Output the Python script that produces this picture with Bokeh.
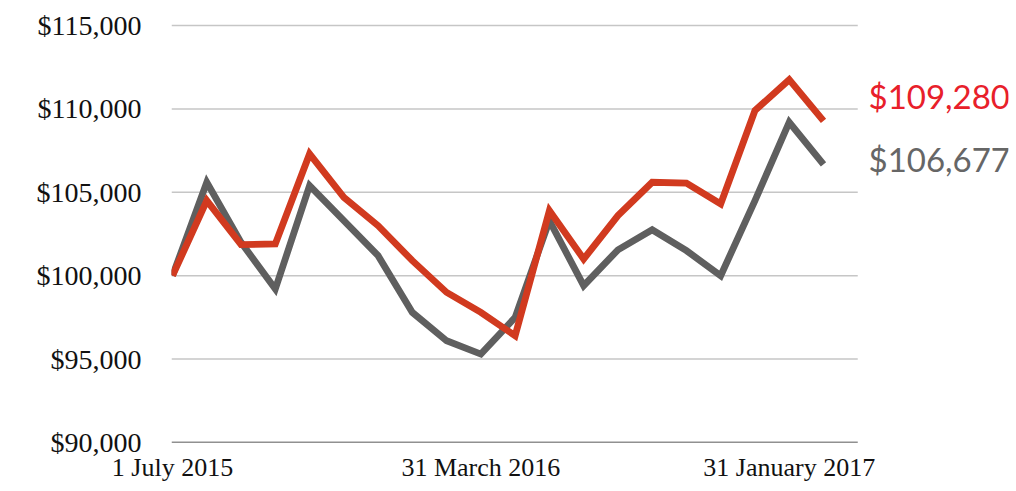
from bokeh.plotting import figure
from bokeh.models import Range1d, FixedTicker, NumeralTickFormatter, Label, ColumnDataSource
from bokeh.embed import file_html
from bokeh.resources import INLINE

# ---- data ----
months = list(range(20))
red_values = [100000, 104500, 101860, 101900, 107300, 104700, 103000, 100900, 99000, 97800,
              96400, 103900, 101000, 103600, 105600, 105550, 104300, 109900, 111750, 109280]
gray_values = [100000, 105600, 102000, 99200, 105400, 103300, 101200, 97800, 96100, 95300,
               97500, 103300, 99400, 101550, 102750, 101500, 100000, 104500, 109200, 106677]
x_tick_positions = [0, 9, 18]
x_tick_labels = ["1 July 2015", "31 March 2016", "31 January 2017"]
y_ticks = [90000, 95000, 100000, 105000, 110000, 115000]
red_end_label = "$109,280"
gray_end_label = "$106,677"

RED = "#d13a1f"
GRAY = "#5f5f5f"
SERIF = "Liberation Serif"

x_start = -0.03
grid_end = months[-1] + 1.0

p = figure(width=1010, height=486, output_backend="svg", toolbar_location=None,
           x_range=Range1d(x_start, 24.4), y_range=Range1d(90000, 115179),
           min_border_left=171, min_border_right=2, min_border_top=22, min_border_bottom=44)
p.outline_line_color = None
p.background_fill_color = "white"
p.border_fill_color = "white"

# horizontal grid lines (only across the data area) and the baseline
grid_src = ColumnDataSource(dict(y=y_ticks[1:], x0=[x_start] * (len(y_ticks) - 1),
                                 x1=[grid_end] * (len(y_ticks) - 1)))
p.segment(x0="x0", y0="y", x1="x1", y1="y", source=grid_src,
          line_color="#c6c6c6", line_width=1.5)
p.segment(x0=[x_start], y0=[y_ticks[0]], x1=[grid_end], y1=[y_ticks[0]],
          line_color="#222222", line_width=1.5)

src = ColumnDataSource(dict(x=months, red=red_values, gray=gray_values))
p.line("x", "gray", source=src, line_color=GRAY, line_width=6.8, line_join="miter")
p.line("x", "red", source=src, line_color=RED, line_width=6.8, line_join="miter")

# y axis
p.yaxis.ticker = FixedTicker(ticks=y_ticks)
p.yaxis.formatter = NumeralTickFormatter(format="$0,0")
p.yaxis.axis_line_color = None
p.yaxis.major_tick_line_color = None
p.yaxis.major_tick_out = 0
p.yaxis.major_tick_in = 0
p.yaxis.minor_tick_line_color = None
p.yaxis.major_label_standoff = 30
p.yaxis.major_label_text_font = SERIF
p.yaxis.major_label_text_font_size = "28px"
p.yaxis.major_label_text_color = "#111111"

# x axis
p.xaxis.ticker = FixedTicker(ticks=x_tick_positions)
p.xaxis.major_label_overrides = {t: l for t, l in zip(x_tick_positions, x_tick_labels)}
p.xaxis.axis_line_color = None
p.xaxis.major_tick_line_color = None
p.xaxis.major_tick_out = 0
p.xaxis.major_tick_in = 0
p.xaxis.minor_tick_line_color = None
p.xaxis.major_label_standoff = 10
p.xaxis.major_label_text_font = SERIF
p.xaxis.major_label_text_font_size = "26px"
p.xaxis.major_label_text_color = "#111111"

p.xgrid.grid_line_color = None
p.ygrid.grid_line_color = None

# end labels
p.add_layout(Label(x=months[-1], y=red_values[-1], x_offset=45, y_offset=25,
                   text=red_end_label, text_color="#e8202a", text_font="Lato",
                   text_font_size="33px", text_baseline="middle"))
p.add_layout(Label(x=months[-1], y=gray_values[-1], x_offset=45, y_offset=5,
                   text=gray_end_label, text_color="#666666", text_font="Lato",
                   text_font_size="33px", text_baseline="middle"))

open("out.html", "w").write(file_html(p, INLINE))
